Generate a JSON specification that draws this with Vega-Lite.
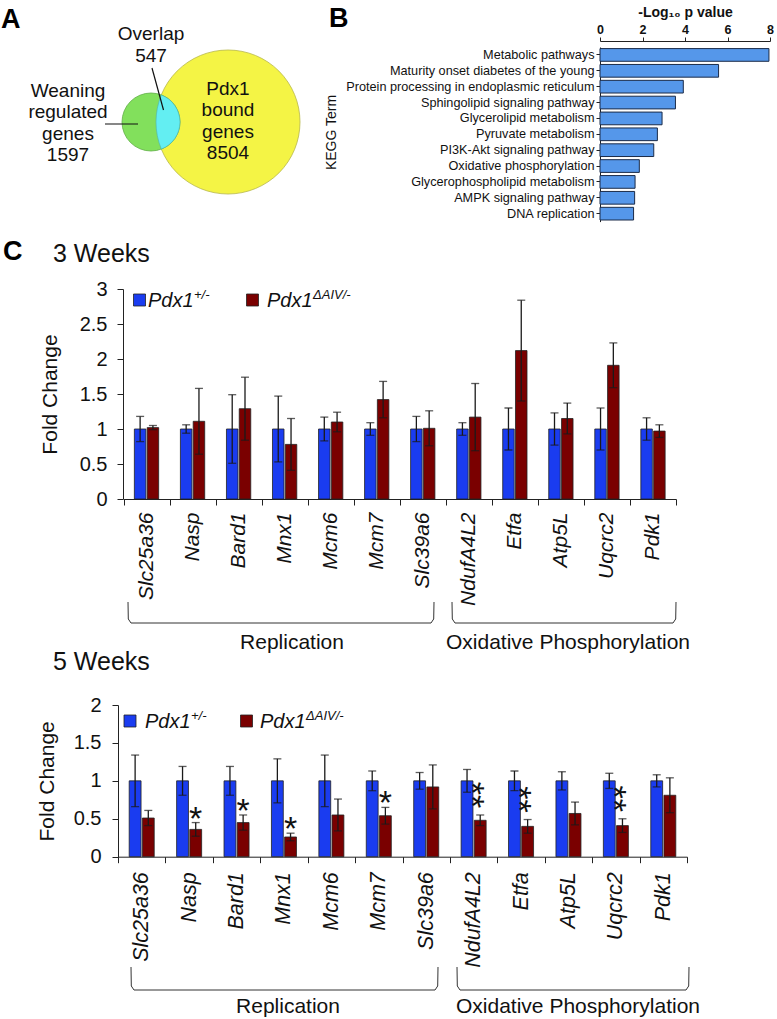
{
  "$schema": "https://vega.github.io/schema/vega-lite/v6.json",
  "width": 777,
  "height": 1019,
  "autosize": {"type": "none"},
  "padding": 0,
  "background": "white",
  "config": {
    "view": {"stroke": null},
    "font": "Liberation Sans",
    "text": {"font": "Liberation Sans", "color": "#111"},
    "axis": {"labelFont": "Liberation Sans", "titleFont": "Liberation Sans", "grid": false, "domainColor": "#222", "tickColor": "#222", "labelColor": "#111", "titleColor": "#111", "labelFlush": false, "titleFontWeight": "normal"}
  },
  "datasets": {
    "kegg": [
      {"term": "Metabolic pathways", "log10p": 7.95},
      {"term": "Maturity onset diabetes of the young", "log10p": 5.58},
      {"term": "Protein processing in endoplasmic reticulum", "log10p": 3.92},
      {"term": "Sphingolipid signaling pathway", "log10p": 3.55},
      {"term": "Glycerolipid metabolism", "log10p": 2.92},
      {"term": "Pyruvate metabolism", "log10p": 2.70},
      {"term": "PI3K-Akt signaling pathway", "log10p": 2.53},
      {"term": "Oxidative phosphorylation", "log10p": 1.85},
      {"term": "Glycerophospholipid metabolism", "log10p": 1.65},
      {"term": "AMPK signaling pathway", "log10p": 1.63},
      {"term": "DNA replication", "log10p": 1.58}
    ],
    "w3": [
      {"gene": "Slc25a36", "group": "Pdx1+/-", "mean": 1.00, "lo": 0.82, "hi": 1.18},
      {"gene": "Slc25a36", "group": "Pdx1ΔAIV/-", "mean": 1.02, "lo": 0.99, "hi": 1.05},
      {"gene": "Nasp", "group": "Pdx1+/-", "mean": 1.00, "lo": 0.94, "hi": 1.06},
      {"gene": "Nasp", "group": "Pdx1ΔAIV/-", "mean": 1.11, "lo": 0.64, "hi": 1.58},
      {"gene": "Bard1", "group": "Pdx1+/-", "mean": 1.00, "lo": 0.51, "hi": 1.49},
      {"gene": "Bard1", "group": "Pdx1ΔAIV/-", "mean": 1.29, "lo": 0.84, "hi": 1.74},
      {"gene": "Mnx1", "group": "Pdx1+/-", "mean": 1.00, "lo": 0.53, "hi": 1.47},
      {"gene": "Mnx1", "group": "Pdx1ΔAIV/-", "mean": 0.78, "lo": 0.41, "hi": 1.15},
      {"gene": "Mcm6", "group": "Pdx1+/-", "mean": 1.00, "lo": 0.83, "hi": 1.17},
      {"gene": "Mcm6", "group": "Pdx1ΔAIV/-", "mean": 1.10, "lo": 0.96, "hi": 1.24},
      {"gene": "Mcm7", "group": "Pdx1+/-", "mean": 1.00, "lo": 0.91, "hi": 1.09},
      {"gene": "Mcm7", "group": "Pdx1ΔAIV/-", "mean": 1.42, "lo": 1.16, "hi": 1.68},
      {"gene": "Slc39a6", "group": "Pdx1+/-", "mean": 1.00, "lo": 0.82, "hi": 1.18},
      {"gene": "Slc39a6", "group": "Pdx1ΔAIV/-", "mean": 1.01, "lo": 0.76, "hi": 1.26},
      {"gene": "NdufA4L2", "group": "Pdx1+/-", "mean": 1.00, "lo": 0.91, "hi": 1.09},
      {"gene": "NdufA4L2", "group": "Pdx1ΔAIV/-", "mean": 1.17, "lo": 0.69, "hi": 1.65},
      {"gene": "Etfa", "group": "Pdx1+/-", "mean": 1.00, "lo": 0.70, "hi": 1.30},
      {"gene": "Etfa", "group": "Pdx1ΔAIV/-", "mean": 2.12, "lo": 1.40, "hi": 2.84},
      {"gene": "Atp5L", "group": "Pdx1+/-", "mean": 1.00, "lo": 0.77, "hi": 1.23},
      {"gene": "Atp5L", "group": "Pdx1ΔAIV/-", "mean": 1.15, "lo": 0.93, "hi": 1.37},
      {"gene": "Uqcrc2", "group": "Pdx1+/-", "mean": 1.00, "lo": 0.70, "hi": 1.30},
      {"gene": "Uqcrc2", "group": "Pdx1ΔAIV/-", "mean": 1.91, "lo": 1.59, "hi": 2.23},
      {"gene": "Pdk1", "group": "Pdx1+/-", "mean": 1.00, "lo": 0.84, "hi": 1.16},
      {"gene": "Pdk1", "group": "Pdx1ΔAIV/-", "mean": 0.97, "lo": 0.88, "hi": 1.06}
    ],
    "w5": [
      {"gene": "Slc25a36", "group": "Pdx1+/-", "mean": 1.00, "lo": 0.66, "hi": 1.34, "sig": ""},
      {"gene": "Slc25a36", "group": "Pdx1ΔAIV/-", "mean": 0.51, "lo": 0.41, "hi": 0.61, "sig": ""},
      {"gene": "Nasp", "group": "Pdx1+/-", "mean": 1.00, "lo": 0.81, "hi": 1.19, "sig": ""},
      {"gene": "Nasp", "group": "Pdx1ΔAIV/-", "mean": 0.36, "lo": 0.27, "hi": 0.45, "sig": "*"},
      {"gene": "Bard1", "group": "Pdx1+/-", "mean": 1.00, "lo": 0.81, "hi": 1.19, "sig": ""},
      {"gene": "Bard1", "group": "Pdx1ΔAIV/-", "mean": 0.45, "lo": 0.35, "hi": 0.55, "sig": "*"},
      {"gene": "Mnx1", "group": "Pdx1+/-", "mean": 1.00, "lo": 0.71, "hi": 1.29, "sig": ""},
      {"gene": "Mnx1", "group": "Pdx1ΔAIV/-", "mean": 0.26, "lo": 0.21, "hi": 0.31, "sig": "*"},
      {"gene": "Mcm6", "group": "Pdx1+/-", "mean": 1.00, "lo": 0.66, "hi": 1.34, "sig": ""},
      {"gene": "Mcm6", "group": "Pdx1ΔAIV/-", "mean": 0.55, "lo": 0.34, "hi": 0.76, "sig": ""},
      {"gene": "Mcm7", "group": "Pdx1+/-", "mean": 1.00, "lo": 0.87, "hi": 1.13, "sig": ""},
      {"gene": "Mcm7", "group": "Pdx1ΔAIV/-", "mean": 0.54, "lo": 0.43, "hi": 0.65, "sig": "*"},
      {"gene": "Slc39a6", "group": "Pdx1+/-", "mean": 1.00, "lo": 0.89, "hi": 1.11, "sig": ""},
      {"gene": "Slc39a6", "group": "Pdx1ΔAIV/-", "mean": 0.92, "lo": 0.63, "hi": 1.21, "sig": ""},
      {"gene": "NdufA4L2", "group": "Pdx1+/-", "mean": 1.00, "lo": 0.85, "hi": 1.15, "sig": ""},
      {"gene": "NdufA4L2", "group": "Pdx1ΔAIV/-", "mean": 0.48, "lo": 0.41, "hi": 0.55, "sig": "**"},
      {"gene": "Etfa", "group": "Pdx1+/-", "mean": 1.00, "lo": 0.87, "hi": 1.13, "sig": ""},
      {"gene": "Etfa", "group": "Pdx1ΔAIV/-", "mean": 0.40, "lo": 0.31, "hi": 0.49, "sig": "**"},
      {"gene": "Atp5L", "group": "Pdx1+/-", "mean": 1.00, "lo": 0.88, "hi": 1.12, "sig": ""},
      {"gene": "Atp5L", "group": "Pdx1ΔAIV/-", "mean": 0.57, "lo": 0.42, "hi": 0.72, "sig": ""},
      {"gene": "Uqcrc2", "group": "Pdx1+/-", "mean": 1.00, "lo": 0.90, "hi": 1.10, "sig": ""},
      {"gene": "Uqcrc2", "group": "Pdx1ΔAIV/-", "mean": 0.41, "lo": 0.32, "hi": 0.50, "sig": "**"},
      {"gene": "Pdk1", "group": "Pdx1+/-", "mean": 1.00, "lo": 0.92, "hi": 1.08, "sig": ""},
      {"gene": "Pdk1", "group": "Pdx1ΔAIV/-", "mean": 0.81, "lo": 0.58, "hi": 1.04, "sig": ""}
    ],
    "venn": [
      {"set": "Pdx1 bound genes", "n": 8504, "x": 228, "y": 122},
      {"set": "Weaning regulated genes", "n": 1597, "x": 151, "y": 122},
      {"set": "Overlap", "n": 547, "x": 168, "y": 122}
    ],
    "vennText": [
      {"x": 151, "y": 40, "text": "Overlap\n547"},
      {"x": 68, "y": 96.5, "text": "Weaning\nregulated\ngenes\n1597"},
      {"x": 228, "y": 94.5, "text": "Pdx1\nbound\ngenes\n8504"}
    ],
    "leaders": [
      {"x": 152, "y": 68, "x2": 163.5, "y2": 110},
      {"x": 105, "y": 124, "x2": 138, "y2": 124}
    ],
    "letters": [
      {"x": 1, "y": 28, "text": "A"},
      {"x": 329, "y": 27, "text": "B"},
      {"x": 3, "y": 260, "text": "C"}
    ],
    "titles": [
      {"x": 53, "y": 262, "text": "3 Weeks"},
      {"x": 53, "y": 670, "text": "5 Weeks"}
    ],
    "groups": [
      {"x": 292, "y": 649, "text": "Replication"},
      {"x": 568, "y": 649, "text": "Oxidative Phosphorylation"},
      {"x": 288, "y": 1013, "text": "Replication"},
      {"x": 578, "y": 1013, "text": "Oxidative Phosphorylation"}
    ],
    "brackets": [
      {"b": "r3", "i": 0, "x": 128, "y": 602}, {"b": "r3", "i": 1, "x": 128.3, "y": 619}, {"b": "r3", "i": 2, "x": 131, "y": 623},
      {"b": "r3", "i": 3, "x": 431, "y": 623}, {"b": "r3", "i": 4, "x": 433.7, "y": 619}, {"b": "r3", "i": 5, "x": 434, "y": 602},
      {"b": "o3", "i": 0, "x": 452, "y": 602}, {"b": "o3", "i": 1, "x": 452.3, "y": 619}, {"b": "o3", "i": 2, "x": 455, "y": 623},
      {"b": "o3", "i": 3, "x": 673, "y": 623}, {"b": "o3", "i": 4, "x": 675.7, "y": 619}, {"b": "o3", "i": 5, "x": 676, "y": 602},
      {"b": "r5", "i": 0, "x": 131, "y": 967}, {"b": "r5", "i": 1, "x": 131.3, "y": 986}, {"b": "r5", "i": 2, "x": 134, "y": 990},
      {"b": "r5", "i": 3, "x": 435, "y": 990}, {"b": "r5", "i": 4, "x": 437.7, "y": 986}, {"b": "r5", "i": 5, "x": 438, "y": 967},
      {"b": "o5", "i": 0, "x": 457, "y": 967}, {"b": "o5", "i": 1, "x": 457.3, "y": 986}, {"b": "o5", "i": 2, "x": 460, "y": 990},
      {"b": "o5", "i": 3, "x": 686, "y": 990}, {"b": "o5", "i": 4, "x": 688.7, "y": 986}, {"b": "o5", "i": 5, "x": 689, "y": 967}
    ],
    "legendKeys": [
      {"x": 139.5, "y": 300, "group": "Pdx1+/-"},
      {"x": 252.5, "y": 300, "group": "Pdx1ΔAIV/-"},
      {"x": 130, "y": 721, "group": "Pdx1+/-"},
      {"x": 246.5, "y": 721, "group": "Pdx1ΔAIV/-"}
    ],
    "legendText": [
      {"x": 148, "y": 307, "text": "Pdx1"},
      {"x": 267, "y": 307, "text": "Pdx1"},
      {"x": 145, "y": 727.5, "text": "Pdx1"},
      {"x": 260, "y": 727.5, "text": "Pdx1"}
    ],
    "legendSup": [
      {"x": 194, "y": 299, "text": "+/-"},
      {"x": 313, "y": 299, "text": "ΔAIV/-"},
      {"x": 191, "y": 719.5, "text": "+/-"},
      {"x": 306, "y": 719.5, "text": "ΔAIV/-"}
    ]
  },
  "resolve": {"scale": {"x": "independent", "y": "independent", "color": "independent", "xOffset": "independent"}},
  "layer": [
    {
      "data": {"name": "kegg"},
      "mark": {"type": "bar", "fill": "#5597ea", "stroke": "#1b2b48", "strokeWidth": 1},
      "encoding": {
        "x": {"field": "log10p", "type": "quantitative",
          "scale": {"domain": [0, 8], "range": [600, 770], "nice": false},
          "axis": {"orient": "top", "offset": -41, "values": [0, 2, 4, 6, 8], "title": "-Log₁₀ p value", "titleFontWeight": "bold", "titleFontSize": 14, "titlePadding": 4, "labelFontWeight": "bold", "labelFontSize": 12.5, "labelPadding": 1, "tickSize": 4}},
        "y": {"field": "term", "type": "nominal", "sort": null,
          "scale": {"range": [47, 221.6], "paddingInner": 0.2, "paddingOuter": 0.1},
          "axis": {"orient": "left", "offset": -600, "title": "KEGG Term", "titleFontSize": 14, "titleX": -262, "titleY": 132, "titleAngle": -90, "titleAlign": "center", "titleBaseline": "bottom", "labelFontSize": 12.7, "labelPadding": 2, "tickSize": 4, "labelLimit": 400}}
      }
    },
    {
      "data": {"name": "w3"},
      "encoding": {
        "x": {"field": "gene", "type": "nominal", "sort": null,
          "scale": {"range": [123.5, 676], "paddingInner": 0, "paddingOuter": 0},
          "axis": {"orient": "bottom", "offset": -520, "title": null, "tickBand": "extent", "tickSize": 6, "labelAngle": -90, "labelFontSize": 21, "labelFontStyle": "italic", "labelPadding": 7}},
        "xOffset": {"field": "group", "type": "nominal", "sort": null, "scale": {"paddingInner": 0.1, "paddingOuter": 0.85}}
      },
      "layer": [
        {
          "mark": {"type": "bar", "stroke": "#222", "strokeWidth": 0.8},
          "encoding": {
            "y": {"field": "mean", "type": "quantitative", "stack": null,
              "scale": {"domain": [0, 3], "range": [499, 289], "nice": false},
              "axis": {"orient": "left", "offset": -123, "values": [0, 0.5, 1, 1.5, 2, 2.5, 3], "format": "~g", "title": "Fold Change", "titleFontSize": 21, "titlePadding": 19, "labelFontSize": 20, "labelPadding": 10, "tickSize": 6}},
            "color": {"field": "group", "type": "nominal", "sort": null, "scale": {"domain": ["Pdx1+/-", "Pdx1ΔAIV/-"], "range": ["#1a3cf0", "#7a0000"]}, "legend": null}
          }
        },
        {
          "mark": {"type": "rule", "color": "#1a1a1a", "strokeWidth": 1.3},
          "encoding": {
            "y": {"field": "lo", "type": "quantitative", "scale": {"domain": [0, 3], "range": [499, 289], "nice": false}},
            "y2": {"field": "hi"}
          }
        },
        {
          "mark": {"type": "tick", "color": "#1a1a1a", "thickness": 1.3, "size": 8},
          "encoding": {"y": {"field": "hi", "type": "quantitative", "scale": {"domain": [0, 3], "range": [499, 289], "nice": false}}}
        },
        {
          "mark": {"type": "tick", "color": "#1a1a1a", "thickness": 1.3, "size": 8},
          "encoding": {"y": {"field": "lo", "type": "quantitative", "scale": {"domain": [0, 3], "range": [499, 289], "nice": false}}}
        }
      ]
    },
    {
      "data": {"name": "w5"},
      "encoding": {
        "x": {"field": "gene", "type": "nominal", "sort": null,
          "scale": {"range": [118, 687], "paddingInner": 0, "paddingOuter": 0},
          "axis": {"orient": "bottom", "offset": -162.3, "title": null, "tickBand": "extent", "tickSize": 6, "labelAngle": -90, "labelFontSize": 21.5, "labelFontStyle": "italic", "labelPadding": 9}},
        "xOffset": {"field": "group", "type": "nominal", "sort": null, "scale": {"paddingInner": 0.1, "paddingOuter": 0.85}}
      },
      "layer": [
        {
          "mark": {"type": "bar", "stroke": "#222", "strokeWidth": 0.8},
          "encoding": {
            "y": {"field": "mean", "type": "quantitative", "stack": null,
              "scale": {"domain": [0, 2], "range": [856.7, 705], "nice": false},
              "axis": {"orient": "left", "offset": -118, "values": [0, 0.5, 1, 1.5, 2], "format": "~g", "title": "Fold Change", "titleFontSize": 21, "titlePadding": 16, "labelFontSize": 20, "labelPadding": 11, "tickSize": 6}},
            "color": {"field": "group", "type": "nominal", "sort": null, "scale": {"domain": ["Pdx1+/-", "Pdx1ΔAIV/-"], "range": ["#1a3cf0", "#7a0000"]}, "legend": null}
          }
        },
        {
          "mark": {"type": "rule", "color": "#1a1a1a", "strokeWidth": 1.3},
          "encoding": {
            "y": {"field": "lo", "type": "quantitative", "scale": {"domain": [0, 2], "range": [856.7, 705], "nice": false}},
            "y2": {"field": "hi"}
          }
        },
        {
          "mark": {"type": "tick", "color": "#1a1a1a", "thickness": 1.3, "size": 8},
          "encoding": {"y": {"field": "hi", "type": "quantitative", "scale": {"domain": [0, 2], "range": [856.7, 705], "nice": false}}}
        },
        {
          "mark": {"type": "tick", "color": "#1a1a1a", "thickness": 1.3, "size": 8},
          "encoding": {"y": {"field": "lo", "type": "quantitative", "scale": {"domain": [0, 2], "range": [856.7, 705], "nice": false}}}
        },
        {
          "transform": [{"filter": "datum.sig == '*'"}],
          "mark": {"type": "text", "fontSize": 34, "dy": 7, "baseline": "alphabetic", "align": "center", "color": "#111"},
          "encoding": {
            "y": {"field": "hi", "type": "quantitative", "scale": {"domain": [0, 2], "range": [856.7, 705], "nice": false}},
            "text": {"field": "sig"}
          }
        },
        {
          "transform": [{"filter": "datum.sig == '**'"}],
          "mark": {"type": "text", "fontSize": 34, "angle": 90, "dx": -20, "dy": 19.5, "baseline": "alphabetic", "align": "center", "color": "#111"},
          "encoding": {
            "y": {"field": "hi", "type": "quantitative", "scale": {"domain": [0, 2], "range": [856.7, 705], "nice": false}},
            "text": {"field": "sig"}
          }
        }
      ]
    },
    {
      "encoding": {
        "x": {"field": "x", "type": "quantitative", "scale": {"domain": [0, 777], "range": [0, 777], "nice": false, "zero": false}, "axis": null},
        "y": {"field": "y", "type": "quantitative", "scale": {"domain": [0, 1019], "range": [0, 1019], "nice": false, "zero": false}, "axis": null}
      },
      "layer": [
        {
          "data": {"name": "venn"},
          "transform": [{"filter": "datum.set == 'Pdx1 bound genes'"}],
          "mark": {"type": "point", "shape": "circle", "filled": true, "size": 20736, "fill": "#f4f445", "stroke": "#b8b84a", "strokeWidth": 0.8, "opacity": 1}
        },
        {
          "data": {"name": "venn"},
          "transform": [{"filter": "datum.set == 'Weaning regulated genes'"}],
          "mark": {"type": "point", "shape": "circle", "filled": true, "size": 3364, "fill": "#82e05c", "stroke": "#5fae45", "strokeWidth": 0.8, "opacity": 1}
        },
        {
          "data": {"name": "venn"},
          "transform": [{"filter": "datum.set == 'Overlap'"}],
          "mark": {"type": "point", "shape": "M-0.2233,-0.9037A0.9667,0.9667,0,0,1,-0.2233,0.9037A2.4,2.4,0,0,1,-0.2233,-0.9037Z", "filled": true, "size": 3600, "fill": "#63eef2", "stroke": "#4fb0b0", "strokeWidth": 0.6, "opacity": 1}
        },
        {
          "data": {"name": "leaders"},
          "mark": {"type": "rule", "color": "#111", "strokeWidth": 1.2},
          "encoding": {"x2": {"field": "x2"}, "y2": {"field": "y2"}}
        },
        {
          "data": {"name": "vennText"},
          "mark": {"type": "text", "fontSize": 19, "align": "center", "baseline": "alphabetic", "lineBreak": "\n", "lineHeight": 21.5, "color": "#111"},
          "encoding": {"text": {"field": "text"}}
        },
        {
          "data": {"name": "letters"},
          "mark": {"type": "text", "fontSize": 27, "fontWeight": "bold", "align": "left", "baseline": "alphabetic", "color": "#000"},
          "encoding": {"text": {"field": "text"}}
        },
        {
          "data": {"name": "titles"},
          "mark": {"type": "text", "fontSize": 25, "align": "left", "baseline": "alphabetic", "color": "#111"},
          "encoding": {"text": {"field": "text"}}
        },
        {
          "data": {"name": "groups"},
          "mark": {"type": "text", "fontSize": 21, "align": "center", "baseline": "alphabetic", "color": "#111"},
          "encoding": {"text": {"field": "text"}}
        },
        {
          "data": {"name": "brackets"},
          "mark": {"type": "line", "color": "#333", "strokeWidth": 1},
          "encoding": {"detail": {"field": "b"}, "order": {"field": "i"}}
        },
        {
          "data": {"name": "legendKeys"},
          "mark": {"type": "point", "shape": "square", "filled": true, "size": 144, "stroke": "#222", "strokeWidth": 0.8, "opacity": 1},
          "encoding": {"color": {"field": "group", "type": "nominal", "scale": {"domain": ["Pdx1+/-", "Pdx1ΔAIV/-"], "range": ["#1a3cf0", "#7a0000"]}, "legend": null}}
        },
        {
          "data": {"name": "legendText"},
          "mark": {"type": "text", "fontSize": 20, "fontStyle": "italic", "align": "left", "baseline": "alphabetic", "color": "#111"},
          "encoding": {"text": {"field": "text"}}
        },
        {
          "data": {"name": "legendSup"},
          "mark": {"type": "text", "fontSize": 13, "fontStyle": "italic", "align": "left", "baseline": "alphabetic", "color": "#111"},
          "encoding": {"text": {"field": "text"}}
        }
      ]
    }
  ]
}
